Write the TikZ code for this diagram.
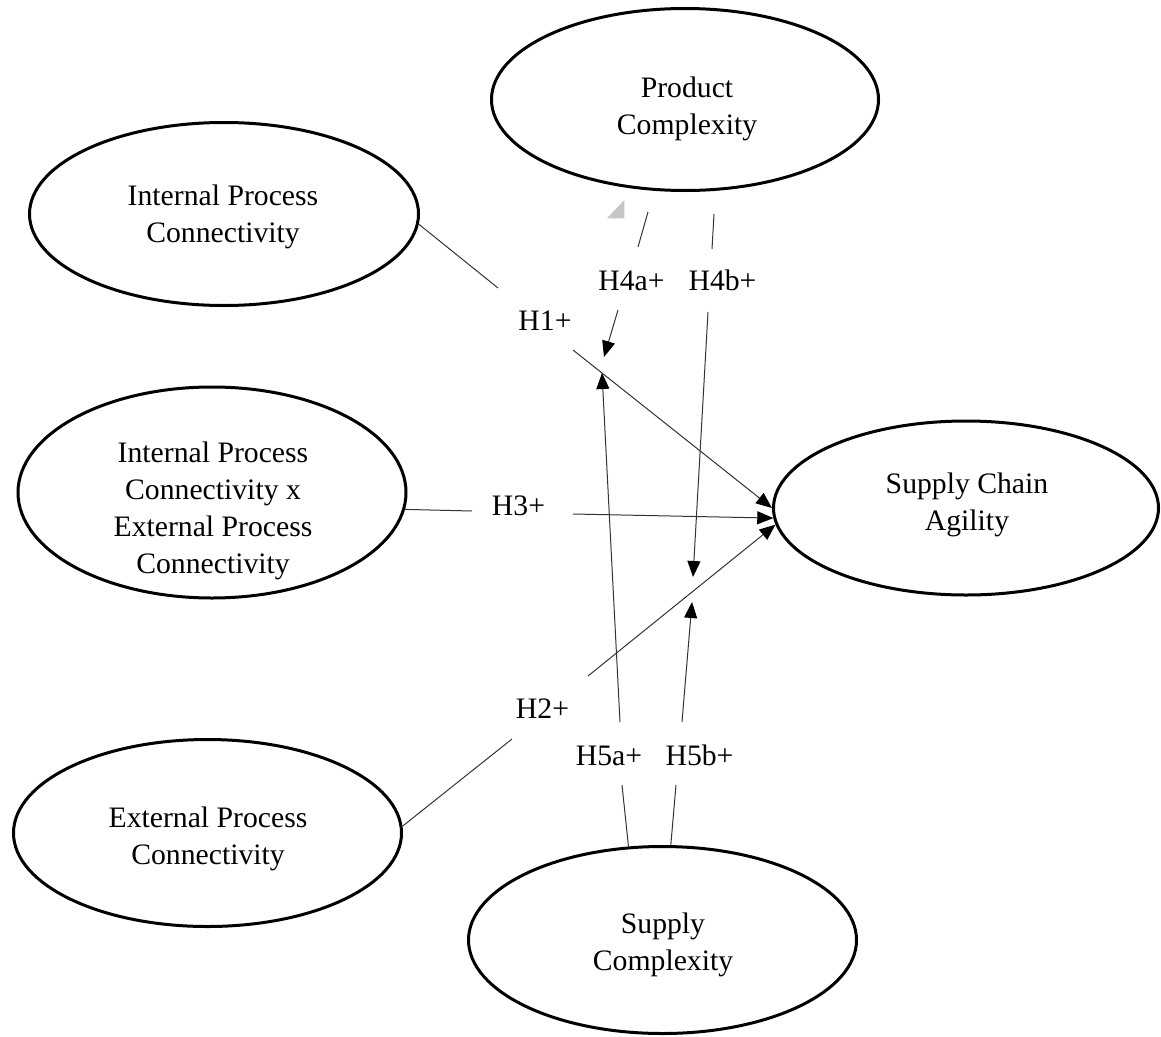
\documentclass[tikz,border=0pt]{standalone}
\usepackage{fontspec}
\setmainfont{Liberation Serif}
\usetikzlibrary{shapes.geometric,arrows.meta}
\begin{document}
\begin{tikzpicture}[x=1pt,y=-1pt,
  construct/.style={ellipse,draw,line width=3pt,inner sep=0pt},
  ctext/.style={align=center,font=\fontsize{29.7}{37}\selectfont,inner sep=0pt},
  hyp/.style={font=\fontsize{29.7}{37}\selectfont,inner sep=0pt,anchor=base},
  link/.style={line width=1pt,draw=black!80},
  arr/.style={link,-{Triangle[length=16pt,width=13pt,color=black]}}]
\useasboundingbox (0,0) rectangle (1161,1036);

% constructs
\node[construct,minimum width=387pt,minimum height=182pt] (pc) at (685,99.5) {};
\node[ctext] (pctext) at (687,108.1) {\strut Product\\\strut Complexity};

\node[construct,minimum width=389pt,minimum height=183pt] (ipc) at (224,214) {};
\node[ctext] (ipctext) at (223,216.1) {\strut Internal Process\\\strut Connectivity};

\node[construct,minimum width=388pt,minimum height=211pt] (ipcx) at (212,492.5) {};
\node[ctext] (ipcxtext) at (213,510.1) {\strut Internal Process\\\strut Connectivity x\\\strut External Process\\\strut Connectivity};

\node[construct,minimum width=385pt,minimum height=174pt] (sca) at (966,508) {};
\node[ctext] (scatext) at (967,504.1) {\strut Supply Chain\\\strut Agility};

\node[construct,minimum width=388pt,minimum height=187pt] (epc) at (207.5,833) {};
\node[ctext] (epctext) at (208,838.1) {\strut External Process\\\strut Connectivity};

\node[construct,minimum width=388pt,minimum height=187pt] (sc) at (662.5,940) {};
\node[ctext] (sctext) at (663,944.1) {\strut Supply\\\strut Complexity};

% stray grey handle
\fill[gray!45] (607,218.3) -- (624.3,218.3) -- (624.3,200) -- cycle;

% hypothesis labels
\node[hyp] (h1) at (545,330) {H1+};
\node[hyp] (h2) at (542.5,718) {H2+};
\node[hyp] (h3) at (518.5,515.7) {H3+};
\node[hyp] (h4a) at (631.5,290) {H4a+};
\node[hyp] (h4b) at (722.5,290) {H4b+};
\node[hyp] (h5a) at (609,765) {H5a+};
\node[hyp] (h5b) at (699.5,765) {H5b+};

% coordinates for free connector ends
\coordinate (h1s) at (498,288);   \coordinate (h1e) at (573,350);
\coordinate (h3s) at (472,511);   \coordinate (h3e) at (573,514);
\coordinate (h2s) at (512,739);   \coordinate (h2e) at (588,676);
\coordinate (h4aa) at (648,212);  \coordinate (h4ab) at (638,247);
\coordinate (h4ac) at (618,310);  \coordinate (h4ad) at (604,357);
\coordinate (h4ba) at (714,214);  \coordinate (h4bb) at (712,249);
\coordinate (h4bc) at (708,312);  \coordinate (h4bd) at (693,577);
\coordinate (h5aa) at (622,785);  \coordinate (h5ab) at (620,722);
\coordinate (h5ac) at (602,373);
\coordinate (h5ba) at (676,785);  \coordinate (h5bb) at (682,722);
\coordinate (h5bc) at (692,602);

% connectors
\draw[link] (ipc.-3) -- (h1s);
\draw[arr] (h1e) -- (sca.180.6);

\draw[link] (ipcx.-5) -- (h3s);
\draw[arr] (h3e) -- (sca.183.6);

\draw[link] (epc.2) -- (h2s);
\draw[arr] (h2e) -- (sca.185.5);

\draw[link] (h4aa) -- (h4ab);
\draw[arr] (h4ac) -- (h4ad);

\draw[link] (h4ba) -- (h4bb);
\draw[arr] (h4bc) -- (h4bd);

\draw[link] (sc.110.8) -- (h5aa);
\draw[arr] (h5ab) -- (h5ac);

\draw[link] (sc.85.5) -- (h5ba);
\draw[arr] (h5bb) -- (h5bc);
\end{tikzpicture}
\end{document}
